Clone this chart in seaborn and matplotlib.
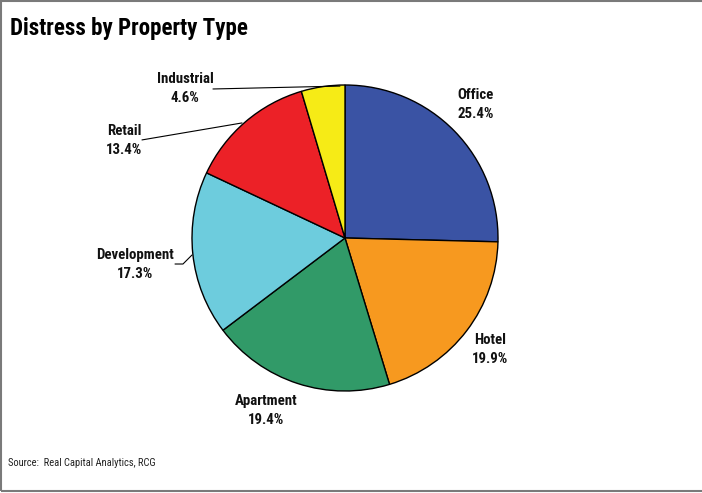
import matplotlib
matplotlib.use("Agg")
import matplotlib.pyplot as plt
import seaborn as sns
from matplotlib.patches import Rectangle

# Share of distressed assets by property type (%)
categories = ["Office", "Hotel", "Apartment", "Development", "Retail", "Industrial"]
shares = [25.4, 19.9, 19.4, 17.3, 13.4, 4.6]
slice_colors = ["#3A53A4", "#F7991F", "#319A68", "#6DCCDD", "#EC2127", "#F6EB16"]

title_text = "Distress by Property Type"
source_text = "Source:  Real Capital Analytics, RCG"

sns.set_theme(style="white")
plt.rcParams["font.family"] = ["Roboto Condensed", "DejaVu Sans"]

W, H = 702, 493
fig = plt.figure(figsize=(W / 100, H / 100), dpi=100)
fig.patch.set_facecolor("white")

# pie occupies a square region centred at (345, 238) px with radius 153 px
cx, cy, r = 345, 238, 153
ax = fig.add_axes([(cx - r) / W, (H - cy - r) / H, 2 * r / W, 2 * r / H])

palette = sns.color_palette(slice_colors)
wedges, _ = ax.pie(
    shares,
    colors=palette,
    startangle=90,
    counterclock=False,
    radius=1,
    center=(0, 0),
    wedgeprops=dict(edgecolor="black", linewidth=1.0),
)
ax.set_xlim(-1, 1)
ax.set_ylim(-1, 1)
ax.set_aspect("equal")
ax.axis("off")

# label positions (data units relative to the pie radius)
label_pos = {
    "Office": (0.856, 0.872),
    "Hotel": (0.948, -0.728),
    "Apartment": (-0.516, -1.128),
    "Development": (-1.370, -0.174),
    "Retail": (-1.445, 0.637),
    "Industrial": (-1.046, 0.976),
}
for name, val in zip(categories, shares):
    x, y = label_pos[name]
    ax.text(x, y, f"{name}\n{val:.1f}%", ha="center", va="center",
            fontsize=10.7, fontweight="bold", linespacing=1.5,
            color="#111111", clip_on=False)

# leader lines for the small left-hand slices
leaders = [
    [(-0.863, 0.974), (-0.033, 0.993)],
    [(-1.327, 0.641), (-0.673, 0.752)],
    [(-1.111, -0.170), (-1.059, -0.170), (-1.0, -0.111)],
]
for pts in leaders:
    xs, ys = zip(*pts)
    ax.plot(xs, ys, color="black", linewidth=0.8, clip_on=False)

fig.text(10 / W, 1 - 35 / H, title_text, fontsize=16.6, fontweight="bold",
         color="black", ha="left", va="baseline")
fig.text(8 / W, 1 - 466 / H, source_text, fontsize=7.6, color="#222222",
         ha="left", va="baseline")

# outer frame
fig.add_artist(Rectangle((0.5 / W, 1 - 490.5 / H), 1.2, (490.0) / H,
                         transform=fig.transFigure, fill=False,
                         edgecolor="#7a7a7a", linewidth=1.5))

fig.savefig("out.png", dpi=100, facecolor="white")
